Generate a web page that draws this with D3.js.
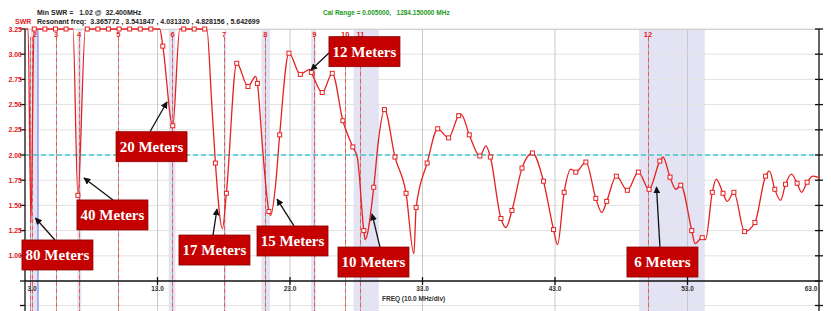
<!DOCTYPE html>
<html><head><meta charset="utf-8">
<script src="https://cdn.jsdelivr.net/npm/d3@7/dist/d3.min.js"></script>
<style>body{margin:0;background:#fff;} svg{display:block;}</style>
</head><body><svg id="c" width="831" height="311"></svg>
<script>
// ---------------- data ----------------
const curveMHz = [3.00,3.23,3.45,3.68,6.62,6.99,7.56,13.17,13.40,14.15,14.68,16.72,17.09,17.37,17.90,18.20,18.98,19.83,20.41,20.54,20.94,21.41,21.54,21.91,22.22,22.92,23.78,24.48,24.61,25.43,26.19,26.99,27.74,28.09,28.57,28.67,29.32,29.68,30.13,30.92,31.76,32.35,32.52,33.35,34.15,34.97,35.73,35.93,36.53,37.33,37.79,38.12,38.92,39.30,39.75,40.51,41.30,42.13,42.89,43.19,43.69,44.20,44.57,45.33,46.08,46.53,46.90,47.63,48.46,49.29,50.10,50.91,51.15,51.68,52.13,52.49,53.32,53.57,54.11,54.36,54.87,55.17,55.68,56.00,56.50,57.31,58.09,58.89,59.19,59.59,60.02,60.40,60.85,61.27,61.61,62.03,62.48,63.00];
const curveSWR = [3.25,3.25,1.33,3.25,3.25,1.60,3.25,3.25,3.08,2.29,3.25,3.25,2.52,1.92,1.27,1.62,2.91,2.68,2.78,2.71,2.05,1.44,1.40,1.70,2.20,3.01,2.80,2.85,2.82,2.62,2.81,2.34,2.08,1.97,1.25,1.16,1.68,2.15,2.45,1.98,1.62,1.02,1.48,1.92,2.26,2.17,2.39,2.40,2.20,1.99,2.09,1.98,1.37,1.28,1.45,1.87,2.02,1.74,1.26,1.11,1.63,1.86,1.83,1.93,1.57,1.43,1.54,1.79,1.65,1.83,1.66,1.94,1.98,1.78,1.66,1.70,1.25,1.12,1.18,1.16,1.63,1.76,1.62,1.54,1.63,1.24,1.33,1.79,1.84,1.66,1.55,1.71,1.81,1.72,1.63,1.73,1.79,1.77];
const markerMHz = [3.70,4.50,5.30,6.10,6.99,7.70,8.50,9.30,10.10,10.90,11.70,12.50,13.40,14.15,14.98,15.77,16.56,17.37,18.20,18.98,19.83,20.54,21.41,22.22,22.92,23.78,24.61,25.43,26.19,26.99,27.74,28.57,29.32,30.13,30.92,31.76,32.52,33.35,34.15,34.97,35.73,36.53,37.33,38.12,38.92,39.75,40.51,41.30,42.13,42.89,43.69,44.57,45.33,46.08,46.90,47.63,48.46,49.29,50.10,50.91,51.68,52.49,53.32,54.11,54.87,55.68,56.50,57.31,58.09,58.89,59.59,60.40,61.27,62.03];
const markerSWR = [3.25,3.25,3.25,3.25,1.60,3.25,3.25,3.25,3.25,3.25,3.25,3.25,3.08,2.29,3.25,3.25,3.25,1.92,1.62,2.91,2.68,2.71,1.44,2.20,3.01,2.80,2.82,2.62,2.81,2.34,2.08,1.25,1.68,2.45,1.98,1.62,1.48,1.92,2.26,2.17,2.39,2.20,1.99,1.98,1.37,1.45,1.87,2.02,1.74,1.26,1.63,1.83,1.93,1.57,1.54,1.79,1.65,1.83,1.66,1.94,1.78,1.70,1.25,1.18,1.63,1.62,1.63,1.24,1.33,1.79,1.66,1.71,1.72,1.73];

const yTicks = [1.00,1.25,1.50,1.75,2.00,2.25,2.50,2.75,3.00,3.25];
const yTickLabels = ["1.00","1.25","1.50","1.75","2.00","2.25","2.50","2.75","3.00","3.25"];
const xTicks = [3,13,23,33,43,53,63];
const xTickLabels = ["3.0","13.0","23.0","33.0","43.0","53.0","63.0"];

const bandLo = [3.43,6.95,13.85,18.07,20.85,24.60,27.80,49.35];
const bandHi = [4.00,7.25,14.35,18.17,21.50,24.95,29.70,54.30];

const markerLineMHz = [3.37,3.54,5.34,7.09,10.05,14.13,18.02,21.14,24.83,27.17,28.32,50.02];
const markerLineLabel = ["","2","3","4","5","6","7","8","9","10","11","12"];
const blueLineMHz = [3.98];

const annoText = ["80 Meters","40 Meters","20 Meters","17 Meters","15 Meters","10 Meters","12 Meters","6 Meters"];
const annoBoxMHz = [2.77,6.92,9.87,14.62,20.51,26.62,25.94,48.43];
const annoBoxSWR = [1.157,1.554,2.231,1.206,1.296,1.087,3.174,1.087];
const annoTailMHz = [5.26,9.64,12.43,17.19,23.30,29.79,25.94,50.92];
const annoTailSWR = [1.157,1.554,2.231,1.206,1.296,1.087,3.012,1.087];
const annoTipMHz = [3.79,7.45,13.72,17.49,22.02,29.19,24.58,50.66];
const annoTipSWR = [1.375,1.772,2.526,1.464,1.563,1.415,2.843,1.683];

const refSWR = 2.00;

// ---------------- drawing ----------------
const svg = d3.select("#c");
const X0 = 25, X1 = 820, Y0 = 281, Y1 = 29;
const x = d3.scaleLinear().domain([3,63]).range([X0,X1]);
const y = d3.scaleLinear().domain([0.75,3.25]).range([Y0,Y1]);

// bands
svg.append("g").selectAll("rect").data(bandLo).join("rect")
  .attr("x",(d,i)=>x(d)).attr("width",(d,i)=>Math.max(1.5,x(bandHi[i])-x(d)))
  .attr("y",Y1).attr("height",311-Y1).attr("fill","#e3e3f3");

// horizontal grid
svg.append("g").selectAll("line").data(yTicks).join("line")
  .attr("x1",X0).attr("x2",X1).attr("y1",d=>y(d)).attr("y2",d=>y(d))
  .attr("stroke","#e2e2e2").attr("stroke-width",1);
// bottom light line
svg.append("line").attr("x1",X0).attr("x2",X1).attr("y1",305.5).attr("y2",305.5).attr("stroke","#e2e2e2");
// vertical grid
svg.append("g").selectAll("line").data(xTicks.slice(1,-1)).join("line")
  .attr("x1",d=>x(d)).attr("x2",d=>x(d)).attr("y1",Y1).attr("y2",311)
  .attr("stroke","#c9c9c9").attr("stroke-width",1);

// marker lines
const ml = svg.append("g");
ml.selectAll("line.g").data(markerLineMHz).join("line").attr("class","g")
  .attr("x1",d=>Math.round(x(d))+0.5).attr("x2",d=>Math.round(x(d))+0.5).attr("y1",Y1+8).attr("y2",311)
  .attr("stroke","#b0b0b0").attr("stroke-width",1);
ml.selectAll("line.r").data(markerLineMHz).join("line").attr("class","r")
  .attr("x1",d=>Math.round(x(d))+0.5).attr("x2",d=>Math.round(x(d))+0.5).attr("y1",Y1+8).attr("y2",311)
  .attr("stroke","#ee5555").attr("stroke-width",1).attr("stroke-dasharray","4,3");
ml.selectAll("text").data(markerLineLabel).join("text")
  .attr("x",(d,i)=>x(markerLineMHz[i])+(i==1?3:0)).attr("y",37)
  .attr("text-anchor","middle").attr("font-family","Liberation Sans, Arial").attr("font-weight","bold")
  .attr("font-size",7.5).attr("fill","#e02020").text(d=>d);
svg.append("g").selectAll("line").data(blueLineMHz).join("line")
  .attr("x1",d=>x(d)).attr("x2",d=>x(d)).attr("y1",Y1).attr("y2",311)
  .attr("stroke","#7f7ff0").attr("stroke-width",1.2);

// reference 2.0 line
svg.append("line").attr("x1",X0).attr("x2",X1).attr("y1",y(refSWR)).attr("y2",y(refSWR))
  .attr("stroke","#40c8cc").attr("stroke-width",1.6).attr("stroke-dasharray","5,3");

// top border
svg.append("line").attr("x1",X0).attr("x2",X1).attr("y1",Y1+0.5).attr("y2",Y1+0.5).attr("stroke","#cfcfcf");

// axes
const ax = svg.append("g").attr("stroke","#111").attr("stroke-width",1.3);
ax.append("line").attr("x1",X0).attr("x2",X0).attr("y1",Y1).attr("y2",311);
ax.append("line").attr("x1",X1-1).attr("x2",X1-1).attr("y1",Y1).attr("y2",311);
ax.append("line").attr("x1",X0).attr("x2",X1).attr("y1",Y0).attr("y2",Y0);
ax.selectAll("line.lt").data(yTicks.concat([0.75])).join("line").attr("class","lt")
  .attr("x1",X0-5).attr("x2",X0).attr("y1",d=>y(d)).attr("y2",d=>y(d));
ax.selectAll("line.rt").data(yTicks.concat([0.75])).join("line").attr("class","rt")
  .attr("x1",X1-5).attr("x2",X1+3).attr("y1",d=>y(d)).attr("y2",d=>y(d));
ax.append("line").attr("x1",X0-5).attr("x2",X0).attr("y1",305.5).attr("y2",305.5);
ax.append("line").attr("x1",X1-5).attr("x2",X1+3).attr("y1",305.5).attr("y2",305.5);
ax.selectAll("line.xt").data(xTicks.slice(1,-1)).join("line").attr("class","xt")
  .attr("x1",d=>x(d)).attr("x2",d=>x(d)).attr("y1",Y0-4).attr("y2",Y0+4);

// y tick labels
svg.append("g").selectAll("text").data(yTicks).join("text")
  .attr("x",22).attr("y",d=>y(d)+2.5).attr("text-anchor","end")
  .attr("font-family","Liberation Sans, Arial").attr("font-weight","bold").attr("font-size",7)
  .attr("fill","#e02020").text((d,i)=>yTickLabels[i]);
// x tick labels
svg.append("g").selectAll("text").data(xTicks).join("text")
  .attr("x",(d,i)=>x(d)+(i==0?7:(i==xTicks.length-1?-9:0))).attr("y",291)
  .attr("text-anchor","middle")
  .attr("font-family","Liberation Sans, Arial").attr("font-weight","bold").attr("font-size",6.5)
  .attr("fill","#333").text((d,i)=>xTickLabels[i]);
svg.append("text").attr("x",382).attr("y",301).attr("font-family","Liberation Sans, Arial")
  .attr("font-weight","bold").attr("font-size",6.5).attr("fill","#333").text("FREQ (10.0 MHz/div)");

// header
const hf = "Liberation Sans, Arial";
svg.append("text").attr("x",37).attr("y",15).attr("font-family",hf).attr("font-weight","bold")
  .attr("font-size",7).attr("fill","#222").attr("xml:space","preserve").text("Min SWR =   1.02 @  32.400MHz");
svg.append("text").attr("x",37).attr("y",24).attr("font-family",hf).attr("font-weight","bold")
  .attr("font-size",7).attr("fill","#222").attr("xml:space","preserve")
  .text("Resonant freq:  3.365772 , 3.541847 , 4.031320 , 4.828156 , 5.642699");
svg.append("text").attr("x",15).attr("y",24).attr("font-family",hf).attr("font-weight","bold")
  .attr("font-size",7).attr("fill","#e02020").text("SWR");
svg.append("text").attr("x",323).attr("y",15).attr("font-family",hf).attr("font-weight","bold")
  .attr("font-size",6.5).attr("fill","#1a9a1a").attr("xml:space","preserve")
  .text("Cal Range = 0.005000,   1284.150000 MHz");

// curve
const pts = curveMHz.map((f,i)=>[f,curveSWR[i]]);
const line = d3.line().x(d=>x(d[0])).y(d=>y(d[1])).curve(d3.curveMonotoneX);
svg.append("path").attr("d",line(pts)).attr("fill","none").attr("stroke","#e52222").attr("stroke-width",1.3);

// markers
svg.append("g").selectAll("rect").data(markerMHz).join("rect")
  .attr("x",d=>x(d)-2).attr("y",(d,i)=>y(markerSWR[i])-2).attr("width",4).attr("height",4)
  .attr("fill","#fff").attr("stroke","#e52222").attr("stroke-width",1);

// annotations
const defs = svg.append("defs");
defs.append("marker").attr("id","ah").attr("viewBox","0 0 10 10").attr("refX",9).attr("refY",5)
  .attr("markerWidth",7).attr("markerHeight",7).attr("orient","auto-start-reverse").attr("markerUnits","userSpaceOnUse")
  .append("path").attr("d","M0,0 L10,5 L0,10 z").attr("fill","#111");
const ag = svg.append("g");
annoText.forEach((t,i)=>{
  const bx = x(annoBoxMHz[i]), by = y(annoBoxSWR[i]);
  ag.append("line").attr("x1",x(annoTailMHz[i])).attr("y1",y(annoTailSWR[i]))
    .attr("x2",x(annoTipMHz[i])).attr("y2",y(annoTipSWR[i]))
    .attr("stroke","#111").attr("stroke-width",1.3).attr("marker-end","url(#ah)");
  ag.append("rect").attr("x",bx).attr("y",by).attr("width",71).attr("height",30)
    .attr("fill","#c50000").attr("stroke","#8a0000").attr("stroke-width",0.8);
  ag.append("text").attr("x",bx+35.5).attr("y",by+20).attr("text-anchor","middle")
    .attr("font-family","Liberation Serif, Times New Roman, serif").attr("font-weight","bold")
    .attr("font-size",15).attr("fill","#fff").text(t);
});
</script></body></html>
